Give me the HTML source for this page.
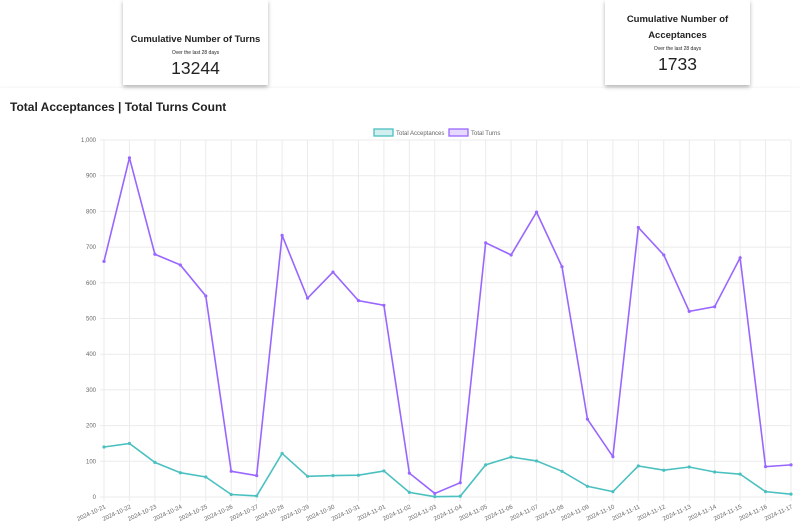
<!DOCTYPE html>
<html><head><meta charset="utf-8"><style>
body{margin:0;width:800px;height:529px;background:#fff;font-family:"Liberation Sans",sans-serif;overflow:hidden;position:relative}
.card{position:absolute;top:0;height:85px;width:145px;background:#fff;box-shadow:0 2px 4px rgba(0,0,0,.3);text-align:center;color:#222}
.t{font-size:9.5px;font-weight:bold;line-height:16px}
.s{font-size:5px;margin-top:2px}
.n{font-size:17.5px;margin-top:2px}
</style></head><body>
<div class="card" style="left:123px"><div class="t" style="margin-top:32px">Cumulative Number of Turns</div><div class="s">Over the last 28 days</div><div class="n">13244</div></div>
<div class="card" style="left:605px"><div class="t" style="margin-top:12px">Cumulative Number of<br>Acceptances</div><div class="s">Over the last 28 days</div><div class="n">1733</div></div>
<div style="position:absolute;left:0;top:88px;width:800px;height:441px;box-shadow:0 0 3px rgba(0,0,0,.08)"></div>
<div style="position:absolute;left:10px;top:100px;font-size:12px;font-weight:bold;color:#222">Total Acceptances | Total Turns Count</div>
<svg id="c" width="800" height="529" style="position:absolute;left:0;top:0"></svg>
<script>
const dates=["2024-10-21","2024-10-22","2024-10-23","2024-10-24","2024-10-25","2024-10-26","2024-10-27","2024-10-28","2024-10-29","2024-10-30","2024-10-31","2024-11-01","2024-11-02","2024-11-03","2024-11-04","2024-11-05","2024-11-06","2024-11-07","2024-11-08","2024-11-09","2024-11-10","2024-11-11","2024-11-12","2024-11-13","2024-11-14","2024-11-15","2024-11-16","2024-11-17"];
const turns=[660,950,680,650,563,72,60,733,557,630,550,537,67,10,40,712,678,798,645,218,113,755,678,520,533,670,85,90];
const acceptances=[140,150,97,68,56,7,3,122,58,60,61,73,13,1,2,90,112,101,72,30,15,87,75,84,70,64,15,8];
const yTicks=[0,100,200,300,400,500,600,700,800,900,1000];
const yTickLabels=["0","100","200","300","400","500","600","700","800","900","1,000"];
const svg=document.getElementById('c');const NS='http://www.w3.org/2000/svg';
const x0=104,x1=791,yb=497,yt=140,ymax=1000;
const X=i=>x0+(x1-x0)*i/(dates.length-1);
const Y=v=>yb-(yb-yt)*v/ymax;
function mk(t,a,p){const e=document.createElementNS(NS,t);for(const k in a)e.setAttribute(k,a[k]);(p||svg).appendChild(e);return e;}
yTicks.forEach((v,i)=>{const l=mk('line',{x1:x0-4,x2:x1,y1:Y(v),y2:Y(v),stroke:'#ebebeb','stroke-width':1});

const t=mk('text',{x:x0-8,y:Y(v)+2,'font-size':6,fill:'#666','text-anchor':'end'});t.textContent=yTickLabels[i];
});
dates.forEach((d,i)=>{const l=mk('line',{x1:X(i),x2:X(i),y1:yt,y2:yb+4,stroke:'#ebebeb','stroke-width':1});

const t=mk('text',{x:X(i)+2,y:yb+11,'font-size':6,fill:'#666','text-anchor':'end',transform:`rotate(-25 ${X(i)+2} ${yb+11})`});t.textContent=d;
});
function series(vals,color,name){const p=mk('polyline',{points:vals.map((v,i)=>X(i)+','+Y(v)).join(' '),fill:'none',stroke:color,'stroke-width':1.6});

vals.forEach((v,i)=>{const c=mk('circle',{cx:X(i),cy:Y(v),r:1.6,fill:color});});}
series(acceptances,'#4bc0c0','acceptances');series(turns,'#9966ff','turns');
const legend=[["Total Acceptances",'#4bc0c0','rgba(75,192,192,0.25)',374],["Total Turns",'#9966ff','rgba(153,102,255,0.25)',449]];
legend.forEach(l=>{const r=mk('rect',{x:l[3],y:129,width:19,height:7,fill:l[2],stroke:l[1],'stroke-width':1.3});

const t=mk('text',{x:l[3]+22,y:135,'font-size':6,fill:'#666'});t.textContent=l[0];
});
</script>
</body></html>
